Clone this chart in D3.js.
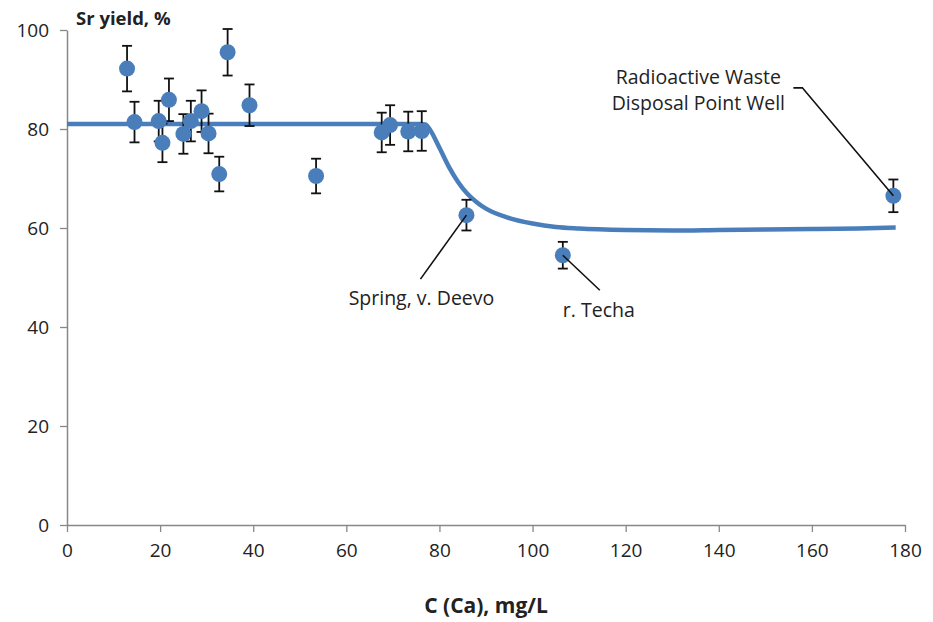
<!DOCTYPE html>
<html>
<head>
<meta charset="utf-8">
<script src="https://cdn.jsdelivr.net/npm/d3@7"></script>
<style>
  body { margin: 0; background: #fff; }
  text { font-family: "Open Sans", "Noto Sans", sans-serif; fill: #222; }
</style>
</head>
<body>
<div id="chart"></div>
<script>
// measured points
const caConc = [12.9, 14.5, 19.7, 20.5, 21.9, 25.0, 26.6, 28.9, 30.4, 32.7, 34.5, 39.2, 53.5, 67.6, 69.4, 73.3, 76.2, 85.8, 106.5, 177.5];
const srYield = [92.2, 81.4, 81.6, 77.2, 85.9, 79.0, 81.6, 83.6, 79.1, 70.9, 95.5, 84.8, 70.5, 79.3, 80.8, 79.5, 79.6, 62.6, 54.5, 66.5];
const yieldErr = [4.6, 4.1, 4.1, 3.9, 4.3, 4.0, 4.1, 4.2, 4.0, 3.5, 4.7, 4.2, 3.5, 4.0, 4.0, 4.0, 4.0, 3.1, 2.7, 3.3];

// fitted curve
const fitX = [0, 20, 40, 60, 76, 77, 78, 80, 82, 84, 86, 88, 90, 95, 100, 105, 110, 120, 130, 140, 150, 160, 170, 178];
const fitY = [81, 81, 81, 81, 81, 80.9, 79.8, 76.2, 72.4, 69.3, 66.9, 65.2, 63.9, 62.0, 60.9, 60.2, 59.9, 59.6, 59.5, 59.6, 59.7, 59.8, 59.9, 60.1];

const xTicks = [0, 20, 40, 60, 80, 100, 120, 140, 160, 180];
const yTicks = [0, 20, 40, 60, 80, 100];

const annotations = [
  { lines: ["Spring, v. Deevo"], idx: 17 },
  { lines: ["r. Techa"], idx: 18 },
  { lines: ["Radioactive Waste", "Disposal Point Well"], idx: 19 }
];

const W = 933, H = 622;
const margin = { top: 30, right: 28, bottom: 97, left: 67 };
const width = W - margin.left - margin.right;
const height = H - margin.top - margin.bottom;

const svg = d3.select("#chart").append("svg")
  .attr("width", W)
  .attr("height", H);

const g = svg.append("g")
  .attr("transform", `translate(${margin.left},${margin.top})`);

const x = d3.scaleLinear().domain([0, 180]).range([0, width]);
const y = d3.scaleLinear().domain([0, 100]).range([height, 0]);

// axes
const xAxis = g.append("g")
  .attr("transform", `translate(0,${height})`)
  .call(d3.axisBottom(x).tickValues(xTicks).tickSize(7).tickPadding(12).tickSizeOuter(0));
const yAxis = g.append("g")
  .call(d3.axisLeft(y).tickValues(yTicks).tickSize(7).tickPadding(11).tickSizeOuter(0));

[xAxis, yAxis].forEach(a => {
  a.select(".domain").attr("stroke", "#888").attr("stroke-width", 1.5);
  a.selectAll(".tick line").attr("stroke", "#888").attr("stroke-width", 1.3);
  a.selectAll(".tick text")
    .style("font-family", "'Open Sans', sans-serif")
    .style("font-size", "19px")
    .attr("fill", "#222");
});

// fit line
const fitData = fitX.map((v, i) => ({ x: v, y: fitY[i] }));
g.append("path")
  .datum(fitData)
  .attr("fill", "none")
  .attr("stroke", "#4a7ebb")
  .attr("stroke-width", 4.5)
  .attr("d", d3.line().x(d => x(d.x)).y(d => y(d.y)).curve(d3.curveMonotoneX));

const pts = caConc.map((v, i) => ({ x: v, y: srYield[i], e: yieldErr[i] }));

// error bars
const eb = g.append("g").attr("stroke", "#111").attr("stroke-width", 1.8);
pts.forEach(d => {
  const cx = x(d.x);
  eb.append("line").attr("x1", cx).attr("x2", cx).attr("y1", y(d.y + d.e)).attr("y2", y(d.y - d.e));
  eb.append("line").attr("x1", cx - 5).attr("x2", cx + 5).attr("y1", y(d.y + d.e)).attr("y2", y(d.y + d.e));
  eb.append("line").attr("x1", cx - 5).attr("x2", cx + 5).attr("y1", y(d.y - d.e)).attr("y2", y(d.y - d.e));
});

// points
g.selectAll("circle.pt")
  .data(pts)
  .enter()
  .append("circle")
  .attr("class", "pt")
  .attr("cx", d => x(d.x))
  .attr("cy", d => y(d.y))
  .attr("r", 8)
  .attr("fill", "#4a7ebb");

// annotations
const lbl = g.append("g");
const a0 = pts[annotations[0].idx];
lbl.append("line")
  .attr("x1", x(a0.x)).attr("y1", y(a0.y))
  .attr("x2", x(a0.x) - 46).attr("y2", y(a0.y) + 64)
  .attr("stroke", "#111").attr("stroke-width", 1.6);
lbl.append("text")
  .attr("x", x(a0.x) - 45).attr("y", y(a0.y) + 90)
  .attr("text-anchor", "middle")
  .style("font-size", "19.5px")
  .text(annotations[0].lines[0]);

const a1 = pts[annotations[1].idx];
lbl.append("line")
  .attr("x1", x(a1.x)).attr("y1", y(a1.y))
  .attr("x2", x(a1.x) + 37).attr("y2", y(a1.y) + 35)
  .attr("stroke", "#111").attr("stroke-width", 1.6);
lbl.append("text")
  .attr("x", x(a1.x) + 36).attr("y", y(a1.y) + 62)
  .attr("text-anchor", "middle")
  .style("font-size", "19.5px")
  .text(annotations[1].lines[0]);

const a2 = pts[annotations[2].idx];
lbl.append("polyline")
  .attr("points", [
    [x(a2.x) - 100, y(a2.y) - 108],
    [x(a2.x) - 91, y(a2.y) - 108],
    [x(a2.x), y(a2.y)]
  ].map(p => p.join(",")).join(" "))
  .attr("fill", "none")
  .attr("stroke", "#111").attr("stroke-width", 1.6);
annotations[2].lines.forEach((t, i) => {
  lbl.append("text")
    .attr("x", x(a2.x) - 195).attr("y", y(a2.y) - 112 + i * 26)
    .attr("text-anchor", "middle")
    .style("font-size", "19.5px")
    .text(t);
});

// axis titles
svg.append("text")
  .attr("x", 76).attr("y", 25)
  .style("font-size", "18.5px")
  .style("font-weight", "bold")
  .text("Sr yield, %");

svg.append("text")
  .attr("x", 486).attr("y", 613)
  .attr("text-anchor", "middle")
  .style("font-size", "21px")
  .style("font-weight", "bold")
  .text("C (Ca), mg/L");
</script>
</body>
</html>
